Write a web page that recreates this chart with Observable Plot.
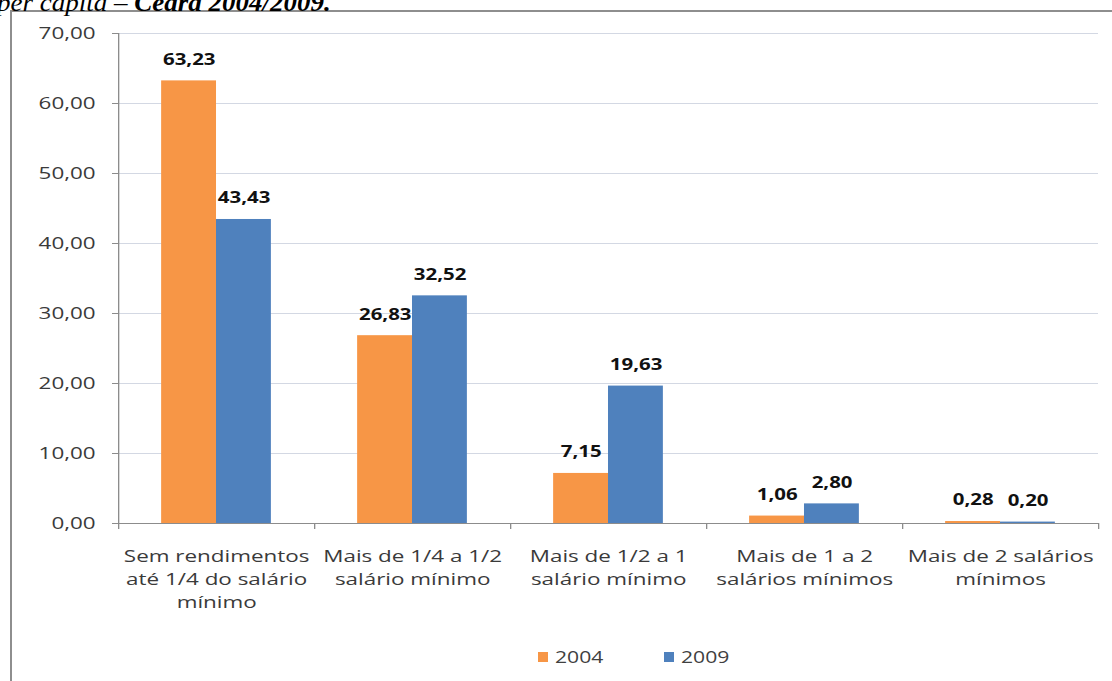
<!DOCTYPE html>
<html>
<head>
<meta charset="utf-8">
<script src="https://cdn.jsdelivr.net/npm/d3@7"></script>
<script src="https://cdn.jsdelivr.net/npm/@observablehq/plot@0.6"></script>
<style>
  html, body { margin: 0; padding: 0; background: #fff; }
  body { width: 1112px; height: 681px; position: relative; overflow: hidden; font-family: "Open Sans", sans-serif; }
  #title {
    position: absolute; left: -3px; top: -11px; white-space: nowrap;
    font-family: "Liberation Serif", "DejaVu Serif", serif; font-size: 25px; font-style: italic; color: #000;
    transform: scaleX(1.08); transform-origin: 0 0;
  }
  #title b { font-weight: bold; }
  #frame {
    position: absolute; left: 10px; top: 10px; width: 1110px; height: 680px;
    border-left: 2px solid #8e8e8e; border-top: 2px solid #8e8e8e; background: transparent;
  }
  /* the chart is drawn at a narrower width and widened, giving the broad lettering of the layout */
  #chart { position: absolute; left: 0; top: 10px; transform-origin: 0 0; }
  #legend {
    position: absolute; left: 538px; top: 646px; display: flex; align-items: center;
    font-family: "Open Sans", sans-serif; font-size: 16px; color: #404040;
  }
  #legend .item { display: flex; align-items: center; margin-right: 72px; }
  #legend .sw { width: 10px; height: 10px; margin-right: 7px; }
  #legend span { display: inline-block; transform: scaleX(1.32); transform-origin: 0 50%; }
</style>
</head>
<body>
<div id="frame"></div>
<div id="title">per capita – <b>Ceará 2004/2009.</b></div>
<div id="chart"></div>
<div id="legend"></div>
<script>
// Income brackets (household income per capita, in minimum wages)
const categories = [
  "Sem rendimentos\naté 1/4 do salário\nmínimo",
  "Mais de 1/4 a 1/2\nsalário mínimo",
  "Mais de 1/2 a 1\nsalário mínimo",
  "Mais de 1 a 2\nsalários mínimos",
  "Mais de 2 salários\nmínimos"
];
const years = [2004, 2009];
const values2004 = [63.23, 26.83, 7.15, 1.06, 0.28];
const values2009 = [43.43, 32.52, 19.63, 2.80, 0.20];
const yTicks = [0, 10, 20, 30, 40, 50, 60, 70];
const colors = ["#f79646", "#4f81bd"];

const fmt = d => d.toFixed(2).replace(".", ",");

// horizontal widening applied to the whole chart
const stretch = 1.32;
const fullWidth = 1112;

// one row per bar; each category occupies one unit on x, the two bars sit side by side in its middle
const rows = [];
categories.forEach((c, i) => {
  rows.push({i, year: 2004, value: values2004[i]});
  rows.push({i, year: 2009, value: values2009[i]});
});
const barW = 0.28;
const left = d => d.i + 0.5 - (d.year === 2004 ? barW : 0);

const chart = Plot.plot({
  width: fullWidth / stretch,
  height: 620,
  marginLeft: 118 / stretch,
  marginRight: 14 / stretch,
  marginTop: 23,
  marginBottom: 107,
  x: {type: "linear", domain: [0, categories.length], axis: null},
  y: {domain: [0, 70], axis: null},
  color: {domain: years, range: colors},
  marks: [
    Plot.gridY(yTicks.filter(t => t > 0), {stroke: "#d3d8e3", strokeOpacity: 1, strokeWidth: 1.2}),
    Plot.axisY(yTicks, {
      label: null, tickFormat: fmt, tickSize: 6 / stretch, tickPadding: 17 / stretch, fontSize: 17,
      fill: "#3a3a3a", stroke: "#8c8c8c", strokeOpacity: 1, strokeWidth: 1
    }),
    Plot.axisX(d3.range(categories.length + 1), {
      label: null, tickFormat: () => "", tickSize: 6, stroke: "#8c8c8c", strokeOpacity: 1
    }),
    Plot.rectY(rows, {
      x1: left, x2: d => left(d) + barW, y1: 0, y2: "value", fill: "year"
    }),
    Plot.ruleX([0], {stroke: "#8c8c8c"}),
    Plot.ruleY([0], {stroke: "#8c8c8c"}),
    Plot.text(rows, {
      x: d => left(d) + barW / 2, y: "value", text: d => fmt(d.value),
      dy: -21, fontSize: 15.5, fontWeight: "bold", fill: "#111",
      fontFamily: "Open Sans, sans-serif"
    }),
    Plot.text(categories, {
      x: (d, i) => i + 0.5, y: () => 0, text: d => d,
      lineAnchor: "top", dy: 22, fontSize: 17, lineHeight: 1.35, fill: "#3a3a3a",
      fontFamily: "Open Sans, sans-serif"
    })
  ]
});
chart.style.fontFamily = "Open Sans, sans-serif";
const holder = document.getElementById("chart");
holder.style.transform = `scaleX(${stretch})`;
holder.appendChild(chart);

// legend below the plot
const legend = d3.select("#legend");
years.forEach((y, k) => {
  const item = legend.append("div").attr("class", "item");
  item.append("div").attr("class", "sw").style("background", colors[k]);
  item.append("span").text(y);
});
</script>
</body>
</html>
